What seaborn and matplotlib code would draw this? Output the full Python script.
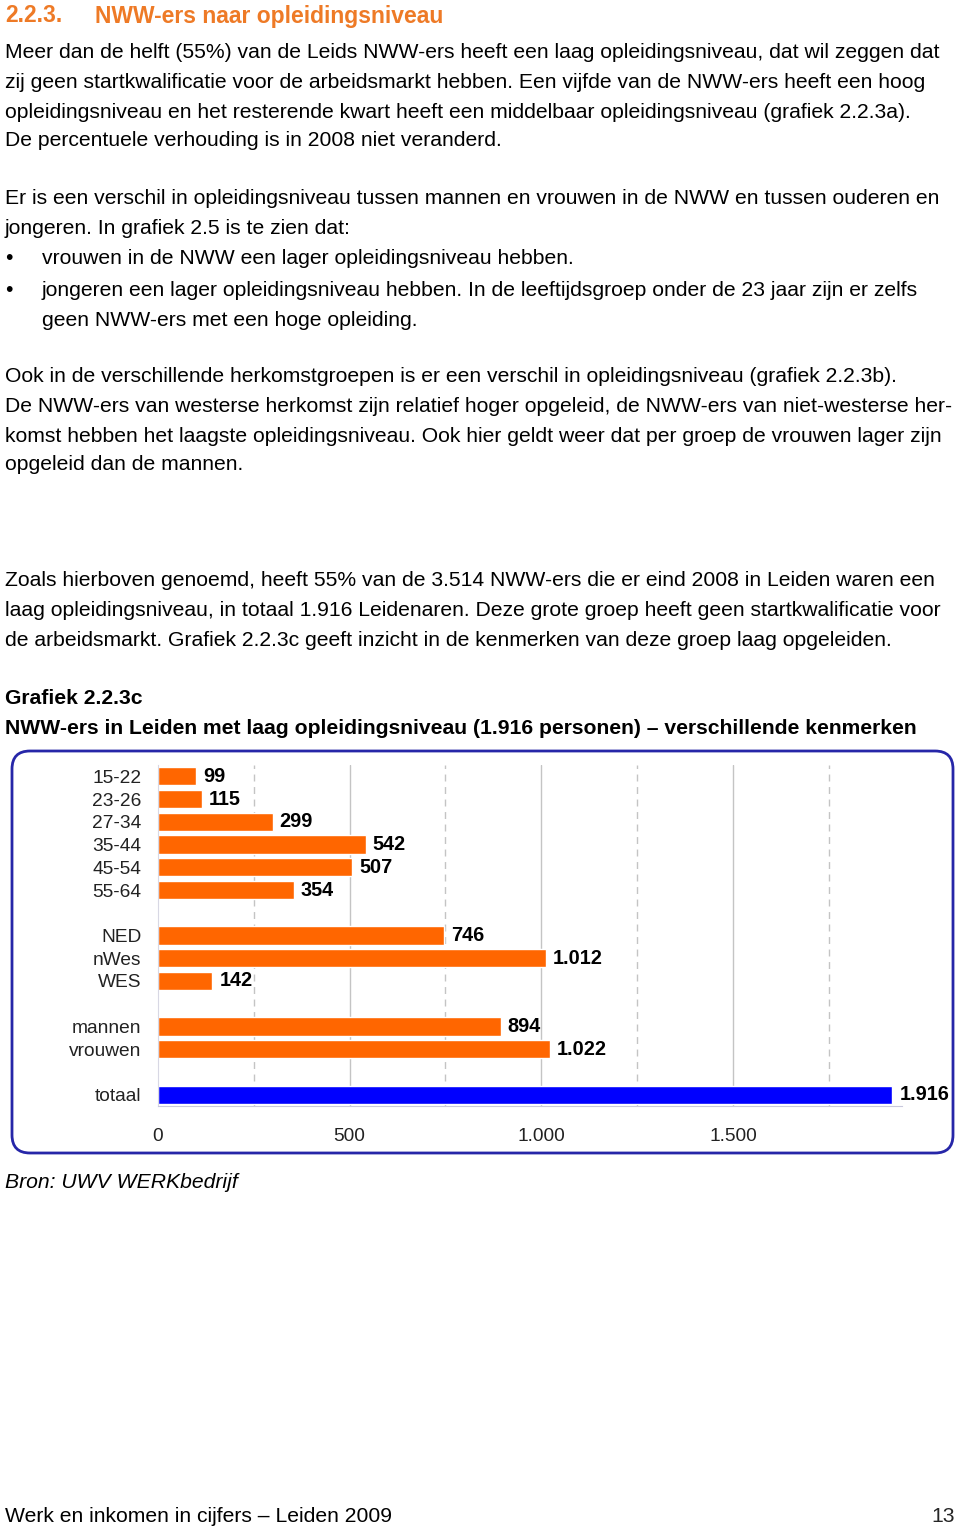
import matplotlib
matplotlib.use("Agg")
import matplotlib.pyplot as plt
import seaborn as sns
import pandas as pd
from matplotlib.patches import FancyBboxPatch

# data read from grafiek 2.2.3c
leeftijd = ["15-22", "23-26", "27-34", "35-44", "45-54", "55-64"]
leeftijd_n = [99, 115, 299, 542, 507, 354]
herkomst = ["NED", "nWes", "WES"]
herkomst_n = [746, 1012, 142]
geslacht = ["mannen", "vrouwen"]
geslacht_n = [894, 1022]
totaal = ["totaal"]
totaal_n = [1916]

ORANJE = "#FF6600"
BLAUW = "#0000FF"

df = pd.DataFrame({
    "kenmerk": leeftijd + herkomst + geslacht + totaal,
    "aantal": leeftijd_n + herkomst_n + geslacht_n + totaal_n,
})
# empty categories as spacers between the groups
order = leeftijd + [""] + herkomst + [" "] + geslacht + ["  "] + totaal
palette = {k: (BLAUW if k in totaal else ORANJE) for k in df["kenmerk"]}

sns.set_style("white")
plt.rcParams["font.family"] = ["Liberation Sans", "DejaVu Sans"]

W, H = 960, 1528
fig = plt.figure(figsize=(W / 100, H / 100), dpi=100)

def fy(ypx):
    return 1 - (ypx + 2) / H

def line(x, y, s, **kw):
    kw.setdefault("size", 15.2)
    kw.setdefault("color", "black")
    fig.text(x / W, fy(y), s, va="center", ha="left", **kw)

# page text
line(5, 14, "2.2.3.", weight="bold", color="#EE7A26", size=16.5)
line(95, 14, "NWW-ers naar opleidingsniveau", weight="bold", color="#EE7A26", size=16.5)

body = [
    (51, "Meer dan de helft (55%) van de Leids NWW-ers heeft een laag opleidingsniveau, dat wil zeggen dat"),
    (81, "zij geen startkwalificatie voor de arbeidsmarkt hebben. Een vijfde van de NWW-ers heeft een hoog"),
    (110, "opleidingsniveau en het resterende kwart heeft een middelbaar opleidingsniveau (grafiek 2.2.3a)."),
    (139, "De percentuele verhouding is in 2008 niet veranderd."),
    (197, "Er is een verschil in opleidingsniveau tussen mannen en vrouwen in de NWW en tussen ouderen en"),
    (227, "jongeren. In grafiek 2.5 is te zien dat:"),
    (375, "Ook in de verschillende herkomstgroepen is er een verschil in opleidingsniveau (grafiek 2.2.3b)."),
    (405, "De NWW-ers van westerse herkomst zijn relatief hoger opgeleid, de NWW-ers van niet-westerse her-"),
    (434, "komst hebben het laagste opleidingsniveau. Ook hier geldt weer dat per groep de vrouwen lager zijn"),
    (463, "opgeleid dan de mannen."),
    (579, "Zoals hierboven genoemd, heeft 55% van de 3.514 NWW-ers die er eind 2008 in Leiden waren een"),
    (609, "laag opleidingsniveau, in totaal 1.916 Leidenaren. Deze grote groep heeft geen startkwalificatie voor"),
    (638, "de arbeidsmarkt. Grafiek 2.2.3c geeft inzicht in de kenmerken van deze groep laag opgeleiden."),
]
for y, s in body:
    line(5, y, s)

line(5, 257, "\u2022")
line(42, 257, "vrouwen in de NWW een lager opleidingsniveau hebben.")
line(5, 288, "\u2022")
line(42, 288, "jongeren een lager opleidingsniveau hebben. In de leeftijdsgroep onder de 23 jaar zijn er zelfs")
line(42, 318, "geen NWW-ers met een hoge opleiding.")

line(5, 696, "Grafiek 2.2.3c", weight="bold")
line(5, 726, "NWW-ers in Leiden met laag opleidingsniveau (1.916 personen) \u2013 verschillende kenmerken", weight="bold")
line(5, 1180, "Bron: UWV WERKbedrijf", style="italic")
line(5, 1515, "Werk en inkomen in cijfers \u2013 Leiden 2009")
fig.text(955 / W, fy(1515), "13", va="center", ha="right", size=15.2)

# rounded blue frame around the chart (pixel coords)
frame = FancyBboxPatch((12, H - 1153), 941, 402,
                       boxstyle="round,pad=0,rounding_size=18",
                       transform=None, fill=False, edgecolor="#2626A8", linewidth=2)
fig.add_artist(frame)

# chart
xmax = 1940
left, right, top, bottom = 158, 158 + xmax * 0.3833, 765, 1106
ax = fig.add_axes([left / W, 1 - bottom / H, (right - left) / W, (bottom - top) / H])
sns.barplot(data=df, y="kenmerk", x="aantal", order=order, hue="kenmerk",
            palette=palette, legend=False, width=0.8, saturation=1, ax=ax)

for c in ax.containers:
    ax.bar_label(c, fmt=lambda v: f"{v:,.0f}".replace(",", "."), padding=5,
                 fontweight="bold", fontsize=14.3, color="black")

ax.set_xlim(0, xmax)
ax.set_ylim(len(order) - 0.5, -0.5)
ax.set_xlabel("")
ax.set_ylabel("")
ax.set_xticks([0, 500, 1000, 1500])
ax.set_xticklabels(["0", "500", "1.000", "1.500"])
ax.tick_params(axis="x", length=0, pad=16, labelsize=13.8, labelcolor="#222222")
ax.tick_params(axis="y", length=0, pad=12, labelsize=13.8, labelcolor="#222222")

for v in range(250, 2000, 250):
    if v % 500 == 0:
        ax.axvline(v, color="#C4C4C4", lw=1, zorder=0)
    else:
        ax.axvline(v, color="#C4C4C4", lw=1, ls=(0, (5, 4)), zorder=0)

for side in ["top", "right"]:
    ax.spines[side].set_visible(False)
ax.spines["left"].set_color("#D8D8E4")
ax.spines["bottom"].set_color("#C8C8DC")
ax.set_facecolor("none")

fig.savefig("out.png", dpi=100)
